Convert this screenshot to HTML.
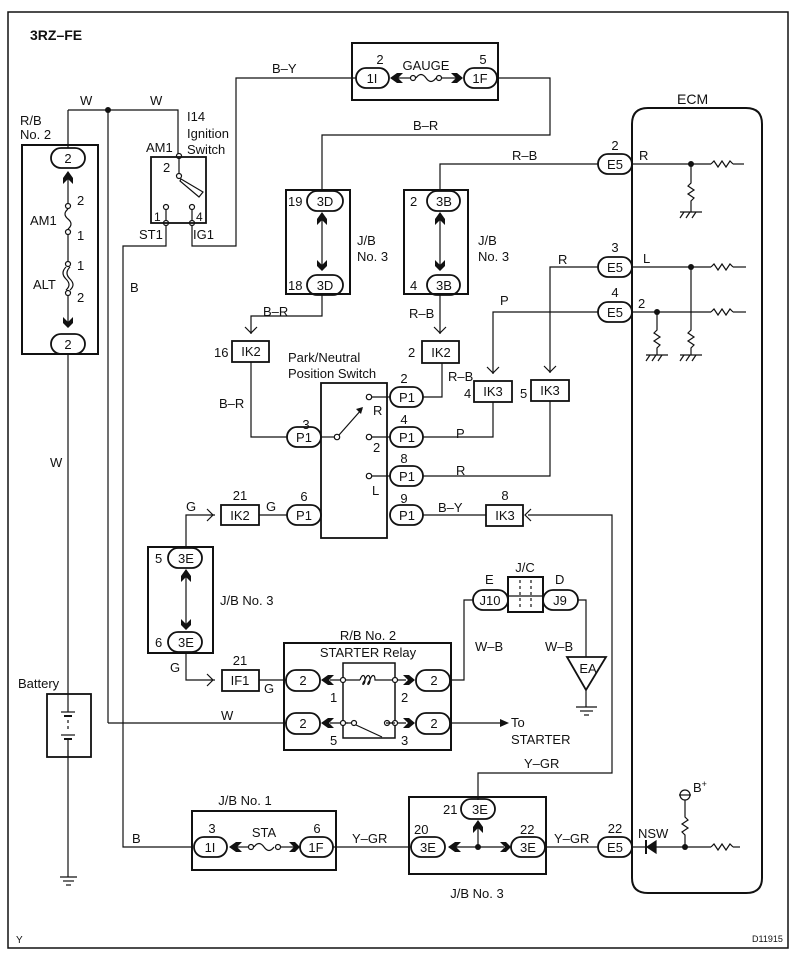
<!DOCTYPE html>
<html><head><meta charset="utf-8"><style>
html,body{margin:0;padding:0;background:#fff}
svg{display:block}
text{font-family:"Liberation Sans",Arial,sans-serif;font-size:13px;fill:#111}
.t{text-anchor:middle}
</style></head><body>
<svg width="795" height="970" viewBox="0 0 795 970" xmlns="http://www.w3.org/2000/svg">
<g fill="none" stroke="#111" stroke-width="1.2">
<!-- outer border -->
<rect x="8" y="12" width="780" height="936" stroke-width="1.5"/>
<!-- R/B No2 -->
<rect x="22" y="145" width="76" height="209" stroke-width="2"/>
<rect x="51" y="148" width="34" height="20" rx="10" stroke-width="1.8"/>
<rect x="51" y="334" width="34" height="20" rx="10" stroke-width="1.8"/>
<line x1="68" y1="110" x2="68" y2="148"/>
<line x1="68" y1="176" x2="68" y2="204"/>
<circle cx="68" cy="206" r="2.5"/><circle cx="68" cy="232" r="2.5"/>
<path d="M68 209 q-6 5 0 10 q6 5 0 10"/>
<line x1="68" y1="235" x2="68" y2="261"/>
<circle cx="68" cy="264" r="2.5"/><circle cx="68" cy="293" r="2.5"/>
<path d="M66 267 q-6 6 0 12 q6 6 0 11 M70 267 q-6 6 0 12 q6 6 0 11"/>
<line x1="68" y1="296" x2="68" y2="325"/>
<line x1="68" y1="354" x2="68" y2="700"/>
<line x1="68" y1="750" x2="68" y2="877"/>
<line x1="60" y1="877" x2="77" y2="877"/><line x1="63" y1="881" x2="74" y2="881"/><line x1="66" y1="885" x2="71" y2="885"/>
<!-- battery -->
<rect x="47" y="694" width="44" height="63" stroke-width="1.8"/>
<line x1="68" y1="700" x2="68" y2="712"/>
<line x1="61" y1="712" x2="75" y2="712"/><line x1="64" y1="716" x2="72" y2="716" stroke-width="2"/>
<line x1="68" y1="720" x2="68" y2="730" stroke-dasharray="3,3"/>
<line x1="61" y1="735" x2="75" y2="735"/><line x1="64" y1="739" x2="72" y2="739" stroke-width="2"/>
<line x1="68" y1="739" x2="68" y2="757"/>
<!-- W wires -->
<polyline points="68,110 178,110 178,154"/>
<line x1="108" y1="110" x2="108" y2="723"/>
<line x1="108" y1="723" x2="286" y2="723"/>
<!-- ignition switch -->
<rect x="151" y="157" width="55" height="66" stroke-width="1.8"/>
<circle cx="179" cy="156" r="2.5"/>
<line x1="179" y1="158" x2="179" y2="173"/>
<circle cx="179" cy="176" r="2.5"/>
<polygon points="181,179 203,192 199,197 180,181"/>
<circle cx="166" cy="207" r="2.5"/><circle cx="192" cy="207" r="2.5"/>
<line x1="166" y1="210" x2="166" y2="220"/><line x1="192" y1="210" x2="192" y2="220"/>
<circle cx="166" cy="223" r="2.5"/><circle cx="192" cy="223" r="2.5"/>
<polyline points="166,226 166,246 123,246 123,847 192,847"/>
<polyline points="192,226 192,246 236,246 236,78 356,78"/>
<!-- J/B No1 top -->
<rect x="352" y="43" width="146" height="57" stroke-width="2"/>
<rect x="356" y="68" width="33" height="20" rx="10" stroke-width="1.8"/>
<rect x="464" y="68" width="33" height="20" rx="10" stroke-width="1.8"/>
<line x1="395" y1="78" x2="410" y2="78"/>
<circle cx="413" cy="78" r="2.5"/><circle cx="439" cy="78" r="2.5"/>
<path d="M416 78 q5 -7 10 0 q5 7 10 0"/>
<line x1="442" y1="78" x2="456" y2="78"/>
<polyline points="497,78 550,78 550,135 322,135 322,191"/>
<!-- J/B No3 3D -->
<rect x="286" y="190" width="64" height="104" stroke-width="2"/>
<rect x="307" y="191" width="36" height="20" rx="10" stroke-width="1.8"/>
<rect x="307" y="275" width="36" height="20" rx="10" stroke-width="1.8"/>
<line x1="322" y1="220" x2="322" y2="266"/>
<polyline points="322,295 322,316 251,316 251,334"/>
<polyline points="245,327 251,333 257,327 M245,322 251,328 257,322"/>
<rect x="232" y="341" width="37" height="21" stroke-width="1.8"/>
<polyline points="251,362 251,437 287,437"/>
<!-- J/B No3 3B -->
<rect x="404" y="190" width="64" height="104" stroke-width="2"/>
<rect x="427" y="191" width="33" height="20" rx="10" stroke-width="1.8"/>
<rect x="427" y="275" width="33" height="20" rx="10" stroke-width="1.8"/>
<line x1="440" y1="220" x2="440" y2="266"/>
<polyline points="440,191 440,164 598,164"/>
<line x1="440" y1="295" x2="440" y2="334"/>
<polyline points="434,327 440,333 446,327 M434,322 440,328 446,322"/>
<rect x="422" y="341" width="37" height="22" stroke-width="1.8"/>
<polyline points="442,363 442,397 423,397"/>
<!-- P/N switch -->
<rect x="321" y="383" width="66" height="155" stroke-width="1.8"/>
<rect x="287" y="427" width="34" height="20" rx="10" stroke-width="1.8"/>
<rect x="287" y="505" width="34" height="20" rx="10" stroke-width="1.8"/>
<rect x="390" y="387" width="33" height="20" rx="10" stroke-width="1.8"/>
<rect x="390" y="427" width="33" height="20" rx="10" stroke-width="1.8"/>
<rect x="390" y="466" width="33" height="20" rx="10" stroke-width="1.8"/>
<rect x="390" y="505" width="33" height="20" rx="10" stroke-width="1.8"/>
<line x1="321" y1="437" x2="334" y2="437"/>
<circle cx="337" cy="437" r="2.7"/>
<line x1="339" y1="435" x2="362" y2="409"/>
<circle cx="369" cy="397" r="2.7"/><circle cx="369" cy="437" r="2.7"/><circle cx="369" cy="476" r="2.7"/>
<line x1="372" y1="397" x2="390" y2="397"/><line x1="372" y1="437" x2="390" y2="437"/><line x1="372" y1="476" x2="390" y2="476"/>
<!-- IK3 4 / 5 -->
<polyline points="423,437 493,437 493,402"/>
<rect x="474" y="381" width="38" height="21" stroke-width="1.8"/>
<polyline points="493,374 493,312 598,312"/>
<polyline points="487,367 493,373 499,367 M487,362 493,368 499,362"/>
<polyline points="423,476 550,476 550,401"/>
<rect x="531" y="380" width="38" height="21" stroke-width="1.8"/>
<polyline points="550,373 550,267 598,267"/>
<polyline points="544,366 550,372 556,366 M544,361 550,367 556,361"/>
<!-- IK3 8 -->
<line x1="423" y1="515" x2="486" y2="515"/>
<rect x="486" y="505" width="37" height="21" stroke-width="1.8"/>
<polyline points="531,509 525,515 531,521 M536,509 530,515 536,521"/>
<polyline points="528,515 612,515 612,773 478,773 478,800"/>
<!-- ECM -->
<path d="M648 108 H746 Q762 108 762 124 V878 Q762 893 746 893 H648 Q632 893 632 878 V124 Q632 108 648 108 Z" stroke-width="2"/>
<rect x="598" y="154" width="34" height="20" rx="10" stroke-width="1.8"/>
<rect x="598" y="257" width="34" height="20" rx="10" stroke-width="1.8"/>
<rect x="598" y="302" width="34" height="20" rx="10" stroke-width="1.8"/>
<rect x="598" y="837" width="34" height="20" rx="10" stroke-width="1.8"/>
<line x1="632" y1="164" x2="711" y2="164"/><path d="M711 164 l3 -3 l4 6 l4 -6 l4 6 l4 -6 l3 3"/><line x1="733" y1="164" x2="744" y2="164"/>
<line x1="632" y1="267" x2="711" y2="267"/><path d="M711 267 l3 -3 l4 6 l4 -6 l4 6 l4 -6 l3 3"/><line x1="733" y1="267" x2="746" y2="267"/>
<line x1="632" y1="312" x2="711" y2="312"/><path d="M711 312 l3 -3 l4 6 l4 -6 l4 6 l4 -6 l3 3"/><line x1="733" y1="312" x2="746" y2="312"/>
<path d="M691 164 V183 l-3 3 l6 4 l-6 4 l6 4 l-3 3 V212"/>
<path d="M691 267 V330 l-3 3 l6 4 l-6 4 l6 4 l-3 3 V355"/>
<path d="M657 312 V330 l-3 3 l6 4 l-6 4 l6 4 l-3 3 V355"/>
<line x1="680" y1="212" x2="702" y2="212"/><path d="M684 212 l-4 6 M690 212 l-4 6 M696 212 l-4 6"/>
<line x1="680" y1="355" x2="702" y2="355"/><path d="M684 355 l-4 6 M690 355 l-4 6 M696 355 l-4 6"/>
<line x1="646" y1="355" x2="668" y2="355"/><path d="M650 355 l-4 6 M656 355 l-4 6 M662 355 l-4 6"/>
<!-- NSW -->
<line x1="632" y1="847" x2="711" y2="847"/><path d="M711 847 l3 -3 l4 6 l4 -6 l4 6 l4 -6 l3 3"/><line x1="733" y1="847" x2="740" y2="847"/>
<line x1="646" y1="840" x2="646" y2="854" stroke-width="2"/>
<polygon points="647,847 656,841 656,853" fill="#111"/>
<path d="M685 847 V835 l-3 -3 l6 -4 l-6 -4 l6 -4 l-3 -3 V800"/>
<circle cx="685" cy="795" r="5"/><line x1="679" y1="795" x2="691" y2="795"/>
<!-- J/B No3 3E left -->
<rect x="148" y="547" width="65" height="106" stroke-width="2"/>
<rect x="168" y="548" width="34" height="20" rx="10" stroke-width="1.8"/>
<rect x="168" y="632" width="34" height="20" rx="10" stroke-width="1.8"/>
<line x1="186" y1="576" x2="186" y2="624"/>
<polyline points="186,548 186,515 215,515"/>
<polyline points="207,509 213,515 207,521 M212,509 218,515 212,521"/>
<rect x="221" y="505" width="38" height="20" stroke-width="1.8"/>
<line x1="259" y1="515" x2="287" y2="515"/>
<polyline points="186,652 186,680 215,680"/>
<polyline points="207,674 213,680 207,686 M212,674 218,680 212,686"/>
<rect x="222" y="670" width="37" height="21" stroke-width="1.8"/>
<line x1="259" y1="680" x2="286" y2="680"/>
<!-- relay -->
<rect x="284" y="643" width="167" height="107" stroke-width="2"/>
<rect x="343" y="663" width="52" height="75" stroke-width="1.5"/>
<rect x="286" y="670" width="34" height="21" rx="10" stroke-width="1.8"/>
<rect x="286" y="713" width="34" height="21" rx="10" stroke-width="1.8"/>
<rect x="416" y="670" width="34" height="21" rx="10" stroke-width="1.8"/>
<rect x="416" y="713" width="34" height="21" rx="10" stroke-width="1.8"/>
<line x1="330" y1="680" x2="406" y2="680"/><line x1="330" y1="723" x2="406" y2="723"/>
<circle cx="343" cy="680" r="2.5" fill="#fff"/><circle cx="395" cy="680" r="2.5" fill="#fff"/>
<circle cx="343" cy="723" r="2.5" fill="#fff"/><circle cx="395" cy="723" r="2.5" fill="#fff"/>
<rect x="360" y="676" width="18" height="8" fill="#fff" stroke="none"/>
<path d="M360 680 c2 -6 5 -6 5 0 c0 6 -5 6 0 0 c2 -6 5 -6 5 0 c0 6 -5 6 0 0 c2 -6 5 -6 5 0 l3 0"/>
<rect x="348" y="719" width="38" height="8" fill="#fff" stroke="none"/>
<line x1="346" y1="723" x2="351" y2="723"/>
<circle cx="354" cy="723" r="2.5"/><circle cx="387" cy="723" r="2.5"/>
<line x1="356" y1="725" x2="382" y2="737"/>
<line x1="390" y1="723" x2="395" y2="723"/>
<polyline points="450,680 464,680 464,600 473,600"/>
<line x1="450" y1="723" x2="500" y2="723"/>
<!-- J/C -->
<rect x="473" y="590" width="35" height="20" rx="10" stroke-width="1.8"/>
<rect x="543" y="590" width="35" height="20" rx="10" stroke-width="1.8"/>
<rect x="508" y="577" width="35" height="35" stroke-width="2"/>
<line x1="508" y1="596" x2="543" y2="596"/>
<line x1="520" y1="580" x2="520" y2="609" stroke-dasharray="3,3"/><line x1="531" y1="580" x2="531" y2="609" stroke-dasharray="3,3"/>
<polyline points="578,600 586,600 586,657"/>
<polygon points="567,657 606,657 586,690" stroke-width="1.8"/>
<line x1="586" y1="690" x2="586" y2="707"/>
<line x1="576" y1="707" x2="597" y2="707"/><line x1="580" y1="711" x2="593" y2="711"/><line x1="584" y1="715" x2="589" y2="715"/>
<!-- bottom J/B No1 -->
<rect x="192" y="811" width="144" height="59" stroke-width="2"/>
<rect x="194" y="837" width="33" height="20" rx="10" stroke-width="1.8"/>
<rect x="300" y="837" width="33" height="20" rx="10" stroke-width="1.8"/>
<line x1="234" y1="847" x2="248" y2="847"/>
<circle cx="251" cy="847" r="2.5"/><circle cx="278" cy="847" r="2.5"/>
<path d="M254 847 q5 -7 10 0 q5 7 10 0"/>
<line x1="281" y1="847" x2="294" y2="847"/>
<line x1="333" y1="847" x2="411" y2="847"/>
<!-- bottom J/B No3 -->
<rect x="409" y="797" width="137" height="77" stroke-width="2"/>
<rect x="461" y="799" width="34" height="20" rx="10" stroke-width="1.8"/>
<rect x="411" y="837" width="34" height="20" rx="10" stroke-width="1.8"/>
<rect x="511" y="837" width="34" height="20" rx="10" stroke-width="1.8"/>
<line x1="452" y1="847" x2="504" y2="847"/>
<line x1="478" y1="826" x2="478" y2="847"/>
<line x1="545" y1="847" x2="598" y2="847"/>
</g>
<g fill="#111">
<circle cx="108" cy="110" r="3"/>
<circle cx="691" cy="164" r="3"/><circle cx="691" cy="267" r="3"/><circle cx="657" cy="312" r="3"/>
<circle cx="685" cy="847" r="3"/><circle cx="478" cy="847" r="3"/>
<!-- connector chevrons -->
<polygon points="63,178 68,171 73,178 73,184 68,179 63,184"/>
<polygon points="63,317 68,322 73,317 73,323 68,328 63,323"/>
<polygon points="317,219 322,212 327,219 327,225 322,220 317,225"/>
<polygon points="317,260 322,265 327,260 327,266 322,271 317,266"/>
<polygon points="435,219 440,212 445,219 445,225 440,220 435,225"/>
<polygon points="435,260 440,265 445,260 445,266 440,271 435,266"/>
<polygon points="181,576 186,569 191,576 191,582 186,577 181,582"/>
<polygon points="181,619 186,624 191,619 191,625 186,630 181,625"/>
<polygon points="473,827 478,820 483,827 483,833 478,828 473,833"/>
<polygon points="397,73 390,78 397,83 403,83 398,78 403,73"/>
<polygon points="451,73 456,78 451,83 457,83 463,78 457,73"/>
<polygon points="236,842 229,847 236,852 242,852 237,847 242,842"/>
<polygon points="289,842 294,847 289,852 295,852 300,847 295,842"/>
<polygon points="455,842 448,847 455,852 461,852 456,847 461,842"/>
<polygon points="500,842 505,847 500,852 506,852 511,847 506,842"/>
<polygon points="328,675 321,680 328,685 334,685 329,680 334,675"/>
<polygon points="328,718 321,723 328,728 334,728 329,723 334,718"/>
<polygon points="403,675 408,680 403,685 409,685 415,680 409,675"/>
<polygon points="403,718 408,723 403,728 409,728 415,723 409,718"/>
<polygon points="363,407 356,409 361,414"/>
<polygon points="500,719 509,723 500,727"/>
</g>
<g>
<text x="30" y="40" style="font-weight:bold;font-size:14px">3RZ–FE</text>
<text x="80" y="105">W</text><text x="150" y="105">W</text>
<text x="20" y="125">R/B</text><text x="20" y="139">No. 2</text>
<text x="187" y="121">I14</text><text x="187" y="138">Ignition</text><text x="187" y="154">Switch</text>
<text x="146" y="152">AM1</text>
<text x="163" y="172">2</text>
<text x="154" y="221" style="font-size:12px">1</text><text x="196" y="221" style="font-size:12px">4</text>
<text x="139" y="239">ST1</text><text x="193" y="239">IG1</text>
<text x="130" y="292">B</text>
<text x="30" y="225">AM1</text><text x="77" y="205">2</text><text x="77" y="240">1</text>
<text x="33" y="289">ALT</text><text x="77" y="270">1</text><text x="77" y="302">2</text>
<text class="t" x="68" y="163">2</text><text class="t" x="68" y="349">2</text>
<text x="50" y="467">W</text>
<text x="18" y="688">Battery</text>
<text x="272" y="73">B–Y</text>
<text class="t" x="380" y="64">2</text><text class="t" x="372" y="83">1I</text>
<text class="t" x="426" y="70">GAUGE</text>
<text class="t" x="483" y="64">5</text><text class="t" x="480" y="83">1F</text>
<text x="413" y="130">B–R</text>
<text x="512" y="160">R–B</text>
<text class="t" x="325" y="206">3D</text><text class="t" x="325" y="290">3D</text>
<text x="288" y="206">19</text><text x="288" y="290">18</text>
<text x="357" y="245">J/B</text><text x="357" y="261">No. 3</text>
<text class="t" x="444" y="206">3B</text><text class="t" x="444" y="290">3B</text>
<text x="410" y="206">2</text><text x="410" y="290">4</text>
<text x="478" y="245">J/B</text><text x="478" y="261">No. 3</text>
<text x="263" y="316">B–R</text>
<text x="409" y="318">R–B</text>
<text class="t" x="251" y="356">IK2</text><text x="214" y="357">16</text>
<text class="t" x="441" y="357">IK2</text><text x="408" y="357">2</text>
<text x="288" y="362">Park/Neutral</text><text x="288" y="378">Position Switch</text>
<text x="219" y="408">B–R</text>
<text class="t" x="306" y="429">3</text><text class="t" x="304" y="442">P1</text>
<text class="t" x="404" y="383">2</text><text class="t" x="407" y="402">P1</text>
<text class="t" x="404" y="424">4</text><text class="t" x="407" y="442">P1</text>
<text class="t" x="404" y="463">8</text><text class="t" x="407" y="481">P1</text>
<text class="t" x="404" y="503">9</text><text class="t" x="407" y="520">P1</text>
<text class="t" x="304" y="501">6</text><text class="t" x="304" y="520">P1</text>
<text x="373" y="415">R</text><text x="373" y="452">2</text><text x="372" y="495">L</text>
<text x="448" y="381">R–B</text>
<text class="t" x="493" y="396">IK3</text><text x="464" y="398">4</text>
<text class="t" x="550" y="395">IK3</text><text x="520" y="398">5</text>
<text x="456" y="438">P</text><text x="456" y="475">R</text>
<text x="500" y="305">P</text><text x="558" y="264">R</text>
<text class="t" x="615" y="150">2</text><text class="t" x="615" y="169">E5</text>
<text class="t" x="615" y="252">3</text><text class="t" x="615" y="272">E5</text>
<text class="t" x="615" y="297">4</text><text class="t" x="615" y="317">E5</text>
<text x="639" y="160">R</text><text x="643" y="263">L</text><text x="638" y="308">2</text>
<text x="677" y="104" style="font-size:14px">ECM</text>
<text x="438" y="512">B–Y</text>
<text class="t" x="505" y="500">8</text><text class="t" x="505" y="520">IK3</text>
<text x="186" y="511">G</text><text x="266" y="511">G</text>
<text class="t" x="240" y="500">21</text><text class="t" x="240" y="520">IK2</text>
<text class="t" x="186" y="563">3E</text><text class="t" x="186" y="647">3E</text>
<text x="155" y="563">5</text><text x="155" y="647">6</text>
<text x="220" y="605">J/B No. 3</text>
<text x="170" y="672">G</text><text x="264" y="693">G</text>
<text class="t" x="240" y="665">21</text><text class="t" x="240" y="685">IF1</text>
<text class="t" x="368" y="640">R/B No. 2</text>
<text class="t" x="368" y="657">STARTER Relay</text>
<text class="t" x="303" y="685">2</text><text class="t" x="303" y="728">2</text>
<text class="t" x="434" y="685">2</text><text class="t" x="434" y="728">2</text>
<text x="330" y="702">1</text><text x="401" y="702">2</text>
<text x="330" y="745">5</text><text x="401" y="745">3</text>
<text x="221" y="720">W</text>
<text x="511" y="727">To</text><text x="511" y="744">STARTER</text>
<text class="t" x="525" y="572">J/C</text>
<text x="485" y="584">E</text><text x="555" y="584">D</text>
<text class="t" x="490" y="605">J10</text><text class="t" x="560" y="605">J9</text>
<text x="475" y="651">W–B</text><text x="545" y="651">W–B</text>
<text class="t" x="588" y="673">EA</text>
<text x="524" y="768">Y–GR</text>
<text class="t" x="245" y="805">J/B No. 1</text>
<text x="132" y="843">B</text>
<text class="t" x="212" y="833">3</text><text class="t" x="210" y="852">1I</text>
<text class="t" x="264" y="837">STA</text>
<text class="t" x="317" y="833">6</text><text class="t" x="316" y="852">1F</text>
<text x="352" y="843">Y–GR</text>
<text class="t" x="480" y="814">3E</text><text x="443" y="814">21</text>
<text x="414" y="834">20</text><text class="t" x="428" y="852">3E</text>
<text x="520" y="834">22</text><text class="t" x="528" y="852">3E</text>
<text class="t" x="477" y="898">J/B No. 3</text>
<text x="554" y="843">Y–GR</text>
<text class="t" x="615" y="833">22</text><text class="t" x="615" y="852">E5</text>
<text x="638" y="838">NSW</text>
<text x="693" y="792">B<tspan dy="-5" style="font-size:9px">+</tspan></text>
<text x="16" y="943" style="font-size:10px">Y</text>
<text x="752" y="942" style="font-size:9px">D11915</text>
</g>
</svg>
</body></html>
